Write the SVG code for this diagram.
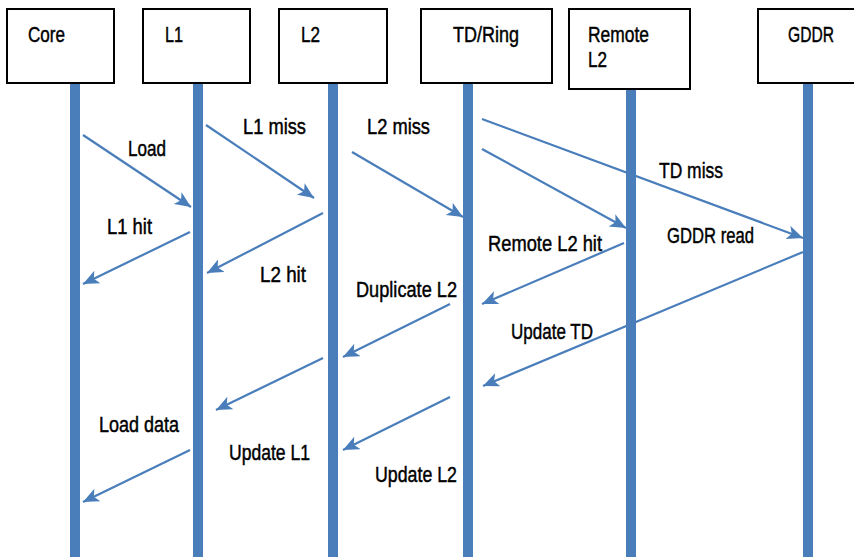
<svg xmlns="http://www.w3.org/2000/svg" width="854" height="557" viewBox="0 0 854 557">
<defs>
<style>
.box{fill:#fff;stroke:#000;stroke-width:2}
.life{fill:#4a7ebb}
.msg{stroke:#4a7ebb;stroke-width:2.2;fill:none;marker-end:url(#ah)}
text{font-family:"Liberation Sans",Arial,sans-serif;font-size:22px;fill:#000;stroke:#000;stroke-width:0.45}
</style>
<marker id="ah" markerUnits="userSpaceOnUse" markerWidth="18" markerHeight="16" refX="16" refY="7" orient="auto" viewBox="0 0 18 16">
<path d="M0,0 L16,7 L0,14 L4,7 z" fill="#4a7ebb"/>
</marker>
</defs>
<rect width="854" height="557" fill="#fff"/>
<g id="lifelines">
<rect class="life" x="70" y="83" width="10" height="474"/>
<rect class="life" x="193" y="83" width="10" height="474"/>
<rect class="life" x="328" y="83" width="10" height="474"/>
<rect class="life" x="463" y="83" width="10" height="474"/>
<rect class="life" x="626" y="89" width="10" height="468"/>
<rect class="life" x="803" y="83" width="10" height="474"/>
</g>
<g id="core"><rect class="box" x="7" y="9" width="107" height="74"/><text x="28" y="41.5" textLength="37" lengthAdjust="spacingAndGlyphs">Core</text></g>
<g id="l1"><rect class="box" x="143" y="9" width="107" height="74"/><text x="165" y="41.5" textLength="18" lengthAdjust="spacingAndGlyphs">L1</text></g>
<g id="l2"><rect class="box" x="279" y="9" width="108" height="74"/><text x="301" y="41.5" textLength="19" lengthAdjust="spacingAndGlyphs">L2</text></g>
<g id="tdring"><rect class="box" x="421" y="9" width="131" height="74"/><text x="453" y="41.5" textLength="66" lengthAdjust="spacingAndGlyphs">TD/Ring</text></g>
<g id="remote"><rect class="box" x="569" y="9" width="121" height="80"/><text x="588" y="41.5" textLength="61" lengthAdjust="spacingAndGlyphs">Remote</text><text x="588" y="66.5" textLength="19" lengthAdjust="spacingAndGlyphs">L2</text></g>
<g id="gddr"><rect class="box" x="758" y="9" width="100" height="74"/><text x="788" y="41.5" textLength="46" lengthAdjust="spacingAndGlyphs">GDDR</text></g>
<g id="connectors">
<line class="msg" x1="83" y1="135" x2="191" y2="207"/>
<line class="msg" x1="206" y1="125" x2="314" y2="198"/>
<line class="msg" x1="190" y1="232" x2="83" y2="284"/>
<line class="msg" x1="323" y1="213" x2="207" y2="273"/>
<line class="msg" x1="352" y1="152" x2="463" y2="217"/>
<line class="msg" x1="482" y1="149" x2="626" y2="228"/>
<line class="msg" x1="482" y1="119" x2="803" y2="238"/>
<line class="msg" x1="624" y1="243" x2="482" y2="304"/>
<line class="msg" x1="803" y1="252" x2="483" y2="386"/>
<line class="msg" x1="450" y1="304" x2="343" y2="357"/>
<line class="msg" x1="323" y1="358" x2="216" y2="410"/>
<line class="msg" x1="450" y1="397" x2="343" y2="450"/>
<line class="msg" x1="190" y1="450" x2="83" y2="502"/>
</g>
<g id="labels">
<text x="128" y="156" textLength="38" lengthAdjust="spacingAndGlyphs">Load</text>
<text x="243" y="134" textLength="63" lengthAdjust="spacingAndGlyphs">L1 miss</text>
<text x="107" y="234" textLength="45" lengthAdjust="spacingAndGlyphs">L1 hit</text>
<text x="260" y="282" textLength="46" lengthAdjust="spacingAndGlyphs">L2 hit</text>
<text x="367" y="134" textLength="63" lengthAdjust="spacingAndGlyphs">L2 miss</text>
<text x="659" y="178" textLength="64" lengthAdjust="spacingAndGlyphs">TD miss</text>
<text x="488" y="251" textLength="114" lengthAdjust="spacingAndGlyphs">Remote L2 hit</text>
<text x="667" y="243" textLength="87" lengthAdjust="spacingAndGlyphs">GDDR read</text>
<text x="356" y="297" textLength="101" lengthAdjust="spacingAndGlyphs">Duplicate L2</text>
<text x="511" y="339" textLength="82" lengthAdjust="spacingAndGlyphs">Update TD</text>
<text x="99" y="432" textLength="80" lengthAdjust="spacingAndGlyphs">Load data</text>
<text x="229" y="460" textLength="81" lengthAdjust="spacingAndGlyphs">Update L1</text>
<text x="375" y="482" textLength="82" lengthAdjust="spacingAndGlyphs">Update L2</text>
</g>
</svg>
